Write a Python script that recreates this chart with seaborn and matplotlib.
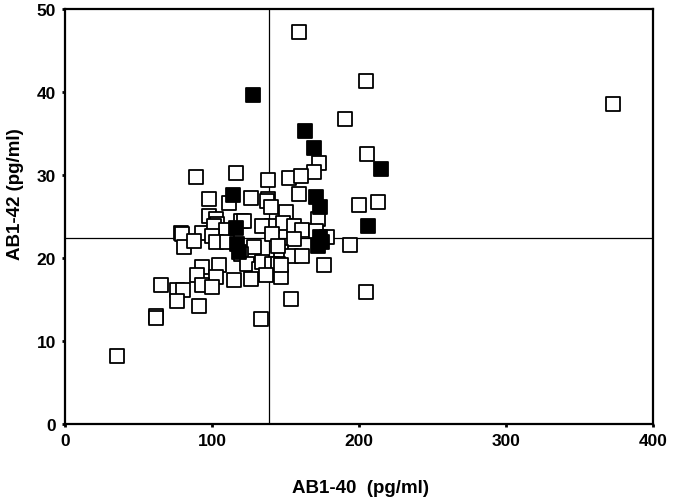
import numpy as np
import pandas as pd
import matplotlib
matplotlib.use("Agg")
import matplotlib.pyplot as plt
import seaborn as sns

# cuadrados abiertos
open_x = [159.4, 204.9, 372.8, 190.8, 205.5, 172.7, 169.3, 89.0, 116.6, 137.9,
          152.1, 160.3, 159.1, 98.0, 126.8, 137.9, 212.8, 200.1, 111.4, 137.7,
          139.9, 150.1, 172.0, 98.0, 102.5, 119.5, 103.7, 141.0, 148.5, 155.7,
          161.4, 170.5, 134.2, 78.8, 93.5, 101.4, 109.3, 79.9, 81.0, 87.8,
          100.3, 102.5, 110.5, 128.6, 141.0, 155.7, 178.4, 194.2, 146.7, 153.5,
          161.4, 119.5, 124.1, 131.9, 134.2, 140.5, 145.0, 176.1, 93.5, 104.8,
          90.1, 102.5, 115.0, 126.3, 136.5, 146.7, 146.7, 93.5, 100.3, 65.2,
          76.5, 80.6, 76.1, 91.2, 61.8, 61.8, 133.1, 154.0, 205.1, 35.7,
          122.0, 145.0]
open_y = [47.2, 41.3, 38.6, 36.8, 32.5, 31.5, 30.4, 29.8, 30.2, 29.4,
          29.6, 29.9, 27.7, 27.1, 27.2, 27.1, 26.7, 26.4, 26.6, 26.9,
          26.1, 25.5, 24.7, 25.0, 24.7, 24.5, 24.1, 23.9, 24.2, 23.8,
          23.4, 23.3, 23.8, 23.0, 23.0, 23.8, 23.4, 22.9, 21.3, 22.1,
          22.7, 21.9, 21.9, 21.3, 22.9, 22.3, 22.5, 21.6, 20.7, 20.3,
          20.3, 20.5, 19.3, 18.7, 19.5, 19.3, 19.3, 19.1, 18.9, 19.1,
          17.9, 17.7, 17.3, 17.5, 17.9, 17.7, 19.1, 16.7, 16.5, 16.7,
          16.1, 16.1, 14.8, 14.2, 13.0, 12.8, 12.7, 15.1, 15.9, 8.2,
          24.4, 21.5]

# cuadrados rellenos
filled_x = [127.9, 163.4, 169.3, 215.1, 114.6, 170.5, 173.4, 206.0, 116.6, 117.3,
            118.4, 173.2, 175.0, 172.0]
filled_y = [39.6, 35.3, 33.3, 30.7, 27.6, 27.3, 26.1, 23.8, 23.6, 21.7,
            20.7, 22.5, 21.9, 21.4]

# lineas de corte
cut_x = 138.8
cut_y = 22.4

df_open = pd.DataFrame({"x": open_x, "y": open_y})
df_filled = pd.DataFrame({"x": filled_x, "y": filled_y})

sns.set_style("white")
plt.rcParams["font.family"] = ["Liberation Sans", "DejaVu Sans"]
plt.rcParams["text.color"] = "black"
plt.rcParams["axes.labelcolor"] = "black"

fig = plt.figure(figsize=(6.73, 5.02), dpi=100)
ax = fig.add_axes([65 / 673, 1 - 425 / 502, 588 / 673, 415 / 502])

ax.axvline(cut_x, color="black", lw=0.9, zorder=1)
ax.axhline(cut_y, color="black", lw=0.9, zorder=1)

sns.scatterplot(data=df_open, x="x", y="y", marker="s", s=95,
                facecolor="white", edgecolor="black", linewidth=1.3, ax=ax, zorder=2)
sns.scatterplot(data=df_filled, x="x", y="y", marker="s", s=95,
                color="black", edgecolor="black", linewidth=1.3, ax=ax, zorder=3)

ax.set_xlim(0, 400)
ax.set_ylim(0, 50)
ax.set_xticks([0, 100, 200, 300, 400])
ax.set_yticks([0, 10, 20, 30, 40, 50])

for s in ax.spines.values():
    s.set_color("black")
    s.set_linewidth(1.6)

ax.tick_params(axis="both", direction="out", length=2.5, width=2, colors="black",
               labelcolor="black", labelsize=12.5, bottom=True, left=True, pad=4)
for lab in ax.get_xticklabels() + ax.get_yticklabels():
    lab.set_fontweight("bold")

ax.set_xlabel("AB1-40  (pg/ml)", fontsize=13.5, fontweight="bold", va="center")
ax.set_ylabel("AB1-42 (pg/ml)", fontsize=13.5, fontweight="bold", va="center")
ax.xaxis.set_label_coords(0.503, -0.152)
ax.yaxis.set_label_coords(-0.085, 0.557)

plt.savefig("out.png", dpi=100)
